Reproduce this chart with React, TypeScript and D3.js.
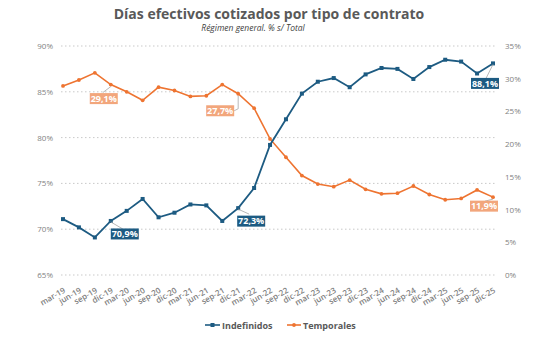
import React from "react";
import * as d3 from "d3";

const periods = [
  "mar-19", "jun-19", "sep-19", "dic-19",
  "mar-20", "jun-20", "sep-20", "dic-20",
  "mar-21", "jun-21", "sep-21", "dic-21",
  "mar-22", "jun-22", "sep-22", "dic-22",
  "mar-23", "jun-23", "sep-23", "dic-23",
  "mar-24", "jun-24", "sep-24", "dic-24",
  "mar-25", "jun-25", "sep-25", "dic-25",
];

// left axis (%)
const indefinidos = [
  71.1, 70.2, 69.1, 70.9, 72.0, 73.3, 71.3, 71.8, 72.7, 72.6, 70.9, 72.3,
  74.5, 79.2, 82.0, 84.8, 86.1, 86.5, 85.5, 86.9, 87.6, 87.5, 86.4, 87.7,
  88.5, 88.3, 87.0, 88.1,
];

// right axis (%)
const temporales = [
  28.9, 29.8, 30.9, 29.1, 28.0, 26.7, 28.7, 28.2, 27.3, 27.4, 29.1, 27.7,
  25.5, 20.8, 18.0, 15.2, 13.9, 13.5, 14.5, 13.1, 12.4, 12.5, 13.6, 12.3,
  11.5, 11.7, 13.0, 11.9,
];

const leftTicks = [65, 70, 75, 80, 85, 90];
const rightTicks = [0, 5, 10, 15, 20, 25, 30, 35];

// annotated points (indices)
const blueLabels = [3, 11, 27];
const orangeLabels = [3, 11, 27];

const W = 537;
const H = 351;
const BLUE = "#1d5b82";
const ORANGE = "#ee7431";
const ORANGE_BOX = "#f2a67c";
const GRID = "#c9c9c9";
const TXT = "#7f7f7f";
const FONT = "'Open Sans', 'DejaVu Sans', sans-serif";

const fmt = (v: number) => v.toFixed(1).replace(".", ",") + "%";

export default function App() {
  const x = d3.scalePoint<string>().domain(periods).range([63, 493]);
  const yL = d3.scaleLinear().domain([65, 90]).range([275, 46]);
  const yR = d3.scaleLinear().domain([0, 35]).range([275, 46]);

  const lineL = d3
    .line<number>()
    .x((_, i) => x(periods[i])!)
    .y((d) => yL(d));
  const lineR = d3
    .line<number>()
    .x((_, i) => x(periods[i])!)
    .y((d) => yR(d));

  // label box offsets relative to the point, and leader end
  const blueOff: Record<number, { bx: number; by: number; lx: number; ly: number }> = {
    3: { bx: 14, by: 13, lx: 12, ly: 8 },
    11: { bx: 13, by: 13, lx: 11, ly: 6 },
    27: { bx: -8, by: 20, lx: -7, ly: 15 },
  };
  const orangeOff: Record<number, { bx: number; by: number; lx: number; ly: number; elbow?: boolean }> = {
    3: { bx: -7, by: 14, lx: -8, ly: 8 },
    11: { bx: -18, by: 17, lx: 0, ly: 15, elbow: true },
    27: { bx: -9, by: 9, lx: -8, ly: 4 },
  };

  const box = (cx: number, cy: number, text: string, fill: string, key: string) => (
    <g key={key}>
      <rect x={cx - 14} y={cy - 5.5} width={28} height={11} fill={fill} />
      <text
        x={cx}
        y={cy + 3.3}
        textAnchor="middle"
        fontSize={9}
        fontWeight="bold"
        fill="#ffffff"
        fontFamily={FONT}
      >
        {text}
      </text>
    </g>
  );

  return (
    <svg
      width={W}
      height={H}
      style={{ position: "absolute", left: 0, top: 0, background: "#fff" }}
      fontFamily={FONT}
    >
      <text x={269} y={19} textAnchor="middle" fontSize={14} fontWeight="bold" fill="#595959">
        Días efectivos cotizados por tipo de contrato
      </text>
      <text x={253} y={31} textAnchor="middle" fontSize={8.5} fontStyle="italic" fill="#404040">
        Régimen general. % s/ Total
      </text>

      {leftTicks.map((t) => (
        <g key={"l" + t}>
          <line
            x1={61}
            x2={497}
            y1={yL(t)}
            y2={yL(t)}
            stroke={GRID}
            strokeWidth={1}
            strokeDasharray="1.5,2.5"
          />
          <text x={53} y={yL(t) + 3} textAnchor="end" fontSize={8} fill={TXT}>
            {t}%
          </text>
        </g>
      ))}
      {rightTicks.map((t) => (
        <text key={"r" + t} x={505} y={yR(t) + 3} fontSize={8} fill={TXT}>
          {t}%
        </text>
      ))}

      {periods.map((p) => (
        <text
          key={p}
          transform={`translate(${x(p)! + 3},${292}) rotate(-30)`}
          textAnchor="end"
          fontSize={8}
          fontWeight={600}
          fill={TXT}
        >
          {p}
        </text>
      ))}

      <path d={lineR(temporales)!} fill="none" stroke={ORANGE} strokeWidth={1.6} />
      {temporales.map((v, i) => (
        <circle key={"o" + i} cx={x(periods[i])!} cy={yR(v)} r={1.9} fill={ORANGE} />
      ))}
      <path d={lineL(indefinidos)!} fill="none" stroke={BLUE} strokeWidth={1.8} />
      {indefinidos.map((v, i) => (
        <rect key={"b" + i} x={x(periods[i])! - 2} y={yL(v) - 2} width={4} height={4} fill={BLUE} />
      ))}

      {orangeLabels.map((i) => {
        const px = x(periods[i])!;
        const py = yR(temporales[i]);
        const o = orangeOff[i];
        const pts = o.elbow
          ? `${px},${py + 2} ${px},${py + o.ly} ${px + o.bx + 14},${py + o.ly + 2}`
          : `${px},${py + 2} ${px + o.lx},${py + o.ly}`;
        return (
          <g key={"ol" + i}>
            <polyline points={pts} fill="none" stroke="#a6a6a6" strokeWidth={0.8} />
            {box(px + o.bx, py + o.by, fmt(temporales[i]), ORANGE_BOX, "ob" + i)}
          </g>
        );
      })}
      {blueLabels.map((i) => {
        const px = x(periods[i])!;
        const py = yL(indefinidos[i]);
        const o = blueOff[i];
        return (
          <g key={"bl" + i}>
            <line x1={px} y1={py + 1} x2={px + o.lx} y2={py + o.ly} stroke="#a6a6a6" strokeWidth={0.8} />
            {box(px + o.bx, py + o.by, fmt(indefinidos[i]), BLUE, "bb" + i)}
          </g>
        );
      })}

      <g fontSize={9} fontWeight="bold" fill="#595959">
        <line x1={205} x2={220} y1={325} y2={325} stroke={BLUE} strokeWidth={1.6} />
        <rect x={210.5} y={323} width={4} height={4} fill={BLUE} />
        <text x={222} y={328.5}>Indefinidos</text>
        <line x1={287} x2={301} y1={325} y2={325} stroke={ORANGE} strokeWidth={1.6} />
        <circle cx={294} cy={325} r={1.9} fill={ORANGE} />
        <text x={303} y={328.5}>Temporales</text>
      </g>
    </svg>
  );
}
